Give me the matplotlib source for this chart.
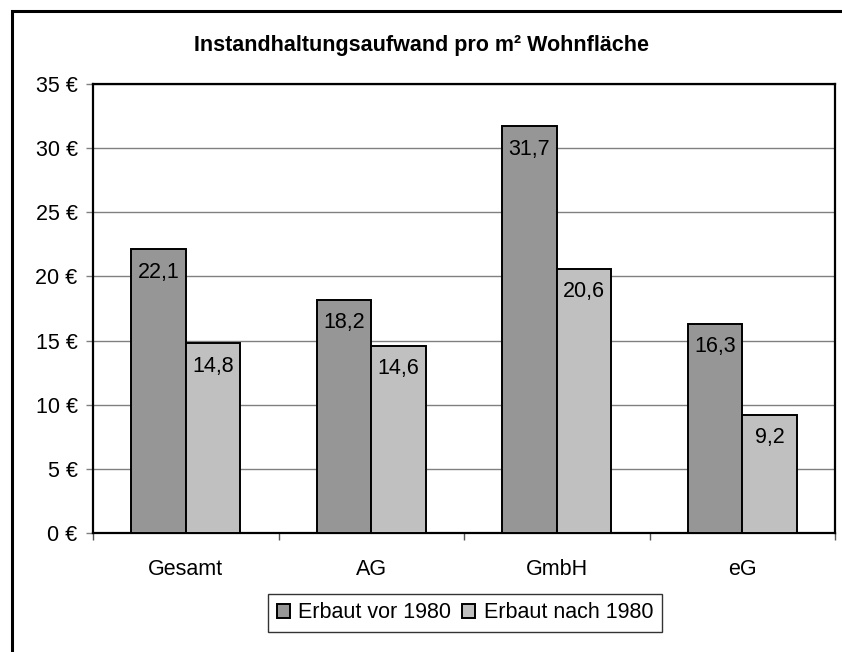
import numpy as np
import matplotlib.pyplot as plt
from matplotlib.patches import Rectangle

plt.rcParams['font.family'] = ['Liberation Sans', 'DejaVu Sans']

# =========================
# Data
# =========================
categories = ['Gesamt', 'AG', 'GmbH', 'eG']
vor_1980 = [22.1, 18.2, 31.7, 16.3]
nach_1980 = [14.8, 14.6, 20.6, 9.2]
series_names = ['Erbaut vor 1980', 'Erbaut nach 1980']
yticks = [0, 5, 10, 15, 20, 25, 30, 35]
title = 'Instandhaltungsaufwand pro m² Wohnfläche'

FS = 15.5  # base font size (pt)

# =========================
# Figure
# =========================
fig = plt.figure(figsize=(8.42, 6.52), dpi=100)
ax = fig.add_axes([93 / 842, 1 - 533 / 652, (835 - 93) / 842, (533 - 84) / 652])

# outer chart frame (cut off at right and bottom like the original)
fig.patches.append(Rectangle((12 / 842, -0.1), 1.2, 1 - 11 / 652 + 0.1,
                             transform=fig.transFigure, fill=False,
                             edgecolor='black', linewidth=2.2))

x = np.arange(len(categories))
w = 0.294
b1 = ax.bar(x - w / 2, vor_1980, w, color='#969696', edgecolor='black',
            linewidth=1.4, label=series_names[0], zorder=3)
b2 = ax.bar(x + w / 2, nach_1980, w, color='#c0c0c0', edgecolor='black',
            linewidth=1.4, label=series_names[1], zorder=3)

# value labels inside the top of the bars
for bars, vals in [(b1, vor_1980), (b2, nach_1980)]:
    for rect, v in zip(bars, vals):
        ax.annotate(f'{v:.1f}'.replace('.', ','),
                    (rect.get_x() + rect.get_width() / 2, v),
                    xytext=(0, -16.5), textcoords='offset points',
                    ha='center', va='center', fontsize=FS, zorder=4)

ax.set_xlim(-0.5, len(categories) - 0.5)
ax.set_ylim(0, 35)
ax.set_yticks(yticks)
ax.set_yticklabels([f'{t} €' for t in yticks])
ax.yaxis.grid(True, color='#808080', linewidth=1.0, zorder=0)

ax.set_xticks(np.arange(-0.5, len(categories), 1.0))
ax.set_xticklabels([])
ax.set_xticks(x, minor=True)
ax.set_xticklabels(categories, minor=True)
ax.tick_params(axis='x', which='minor', length=0, pad=19, labelsize=FS)
ax.tick_params(axis='x', which='major', length=5, width=1, color='#555555')
ax.tick_params(axis='y', length=5, width=1, color='#808080', pad=6, labelsize=FS)

for s in ax.spines.values():
    s.set_linewidth(1.6)
    s.set_color('black')

fig.text(422 / 842, 1 - 45 / 652, title, ha='center', va='center',
         fontsize=15.5, fontweight='bold')

fig.legend(handles=[b1, b2], loc='center',
           bbox_to_anchor=(465 / 842, 1 - 613 / 652), ncol=2,
           fontsize=FS, frameon=True, fancybox=False, edgecolor='#333333',
           handlelength=0.6, handleheight=0.6, handletextpad=0.4,
           columnspacing=0.5, borderpad=0.4, framealpha=1)

plt.savefig('out.png', dpi=100)
